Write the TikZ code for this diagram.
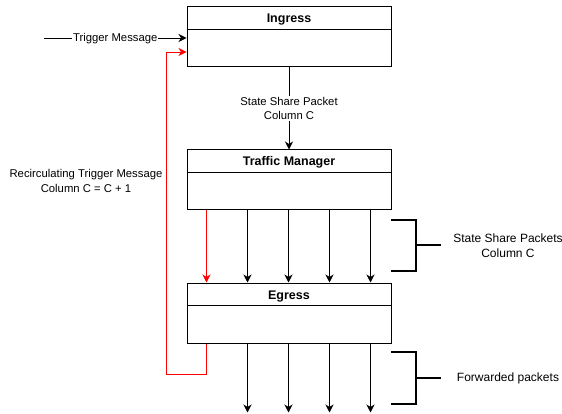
\documentclass[tikz,border=0pt]{standalone}
\usepackage{fontspec}
\setmainfont{Liberation Sans}
\usetikzlibrary{arrows.meta,calc}

\tikzset{
  stage/.style={draw, line width=1pt, minimum width=204pt, minimum height=60pt, inner sep=0pt},
  flow/.style={line width=0.8pt, -{Stealth[length=8pt,width=8pt,inset=2.5pt]}},
  recirc/.style={flow, red},
  brace/.style={line width=1.6pt},
  lbl/.style={align=center, font=\fontsize{11.3}{14.5}\selectfont},
  side/.style={lbl, font=\fontsize{12}{15}\selectfont}
}

\begin{document}
\begin{tikzpicture}[x=1pt,y=-1pt]
    \useasboundingbox (0,0) rectangle (562,414);

    % the three pipeline stages
    \node[stage] (ingress) at (289,37) {};
    \node[stage] (tm) at (289,180) {};
    \node[stage] (egress) at (289,313) {};
    \foreach \s/\t in {ingress/Ingress, tm/Traffic Manager, egress/Egress} {
      \draw[line width=0.8pt] ([yshift=-23pt]\s.north west) -- ([yshift=-23pt]\s.north east);
      \node[anchor=base, inner sep=0pt, font=\fontsize{12.5}{14}\selectfont\bfseries] (\s-title)
        at ([yshift=-16.5pt]\s.north) {\t};
    }

    % trigger into ingress
    \coordinate (trig) at (44,38);
    \draw[flow] (trig) -- (trig -| ingress.west)
      node[lbl, midway, fill=white, inner sep=1pt, yshift=-1pt] (trig-lbl) {Trigger Message};

    \draw[flow] (ingress.south) -- (tm.north)
      node[lbl, pos=0.5, fill=white, inner sep=1pt] (ss-lbl) {State Share Packet\\Column C};

    % traffic manager to egress
    \draw[recirc] ([xshift=20pt]tm.south west) -- ([xshift=20pt]egress.north west);
    \foreach \x in {61,102,143,184}
      \draw[flow] ([xshift=\x pt]tm.south west) -- ([xshift=\x pt]egress.north west);

    % recirculation back to ingress
    \coordinate (loop) at (166,374);
    \draw[recirc] ([xshift=20pt]egress.south west) |- (loop) |- ([yshift=-15pt]ingress.west);
    \node[lbl] (rec-lbl) at (86,181) {Recirculating Trigger Message\\Column C = C + 1};

    % packets leaving egress
    \foreach \x [count=\i] in {61,102,143,184} {
      \coordinate (out\i) at ($(egress.south west)+(\x,69)$);
      \draw[flow] ([xshift=\x pt]egress.south west) -- (out\i);
    }

    % brackets
    \draw[brace] (391,220) -- (416,220) -- (416,271) -- (391,271);
    \draw[brace] (416,245) -- (441,245);
    \node[side] (share-lbl) at (508,246) {State Share Packets\\Column C};

    \draw[brace] (391,352) -- (416,352) -- (416,404) -- (391,404);
    \draw[brace] (416,378) -- (441,378);
    \node[side] (fwd-lbl) at (508,378) {Forwarded packets};
\end{tikzpicture}
\end{document}
